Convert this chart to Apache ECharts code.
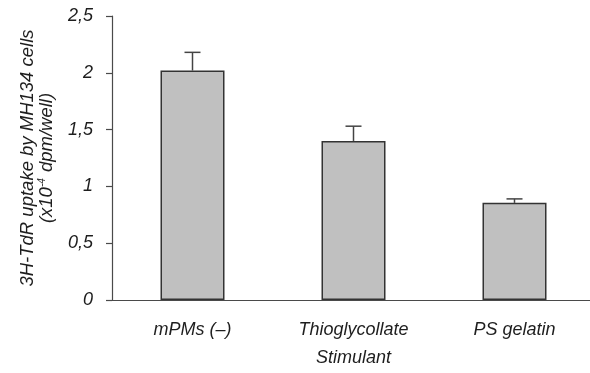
<!DOCTYPE html>
<html>
<head>
<meta charset="utf-8">
<script src="https://cdn.jsdelivr.net/npm/echarts@6/dist/echarts.min.js"></script>
<style>
  html, body { margin: 0; padding: 0; background: #fff; }
  #chart { width: 590px; height: 373px; }
</style>
</head>
<body>
<div id="chart"></div>
<script>
const categories = ["mPMs (\u2013)", "Thioglycollate", "PS gelatin"];
const uptake = [2.02, 1.40, 0.855];
const errorTop = [2.18, 1.53, 0.89];

const font = "'Liberation Sans', Arial, sans-serif";
const axisColor = "#4a4a4a";
const textColor = "#1e1e1e";

const chart = echarts.init(document.getElementById("chart"));

const errorData = categories.map((c, i) => [i, uptake[i], errorTop[i]]);

chart.setOption({
  animation: false,
  grid: { left: 112, right: -5, top: 16, bottom: 73, outerBoundsMode: "none", containLabel: false },
  xAxis: {
    type: "category",
    data: categories,
    name: "Stimulant",
    nameLocation: "middle",
    nameGap: 49,
    nameTextStyle: { fontFamily: font, fontStyle: "italic", fontSize: 18, color: textColor },
    axisLine: { lineStyle: { color: axisColor, width: 1.2 } },
    axisTick: { length: 6, lineStyle: { color: axisColor, width: 1.2 } },
    axisLabel: { fontFamily: font, fontStyle: "italic", fontSize: 18, color: textColor, margin: 21 }
  },
  yAxis: {
    type: "value",
    min: 0,
    max: 2.5,
    interval: 0.5,
    name: "{a|3H-TdR uptake by MH134 cells}\n{a|(x10}{s|-4}{a| dpm/well)}",
    nameLocation: "middle",
    nameGap: 56,
    nameRotate: 90,
    nameTextStyle: {
      rich: {
        a: { fontFamily: font, fontStyle: "italic", fontSize: 18.5, color: textColor, lineHeight: 19 },
        s: { fontFamily: font, fontStyle: "italic", fontSize: 10, color: textColor, lineHeight: 19, padding: [0, 1, 8, 0] }
      }
    },
    splitLine: { show: false },
    axisLine: { show: true, lineStyle: { color: axisColor, width: 1.2 } },
    axisTick: { show: true, length: 6, lineStyle: { color: axisColor, width: 1.2 } },
    axisLabel: {
      fontFamily: font, fontStyle: "italic", fontSize: 18, color: textColor, margin: 19,
      formatter: v => String(v).replace(".", ",")
    }
  },
  series: [
    {
      type: "bar",
      data: uptake,
      barWidth: 64,
      itemStyle: { color: "#c0c0c0", borderColor: "#333", borderWidth: 1.5 }
    },
    {
      type: "custom",
      data: errorData,
      z: 1,
      renderItem: (params, api) => {
        const base = api.coord([api.value(0), api.value(1)]);
        const top = api.coord([api.value(0), api.value(2)]);
        const half = 8;
        const style = { stroke: "#444", lineWidth: 1.5 };
        return {
          type: "group",
          children: [
            { type: "line", shape: { x1: base[0], y1: base[1], x2: top[0], y2: top[1] }, style },
            { type: "line", shape: { x1: top[0] - half, y1: top[1], x2: top[0] + half, y2: top[1] }, style }
          ]
        };
      }
    }
  ]
});
</script>
</body>
</html>
